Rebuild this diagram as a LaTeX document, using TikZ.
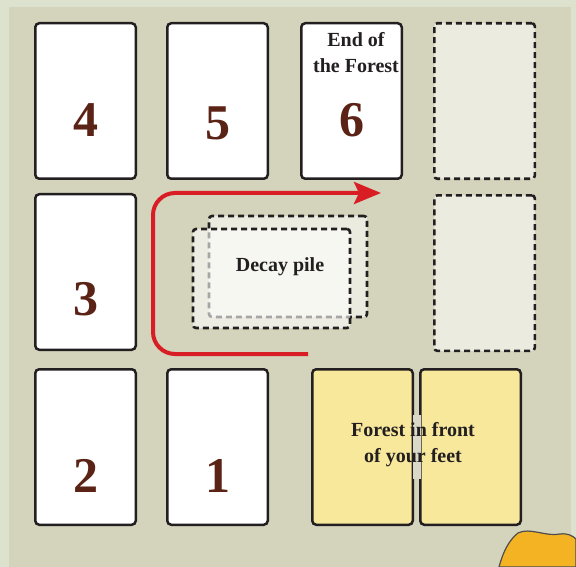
\documentclass[tikz,border=0pt]{standalone}
\usepackage{fontspec}
\setmainfont{Liberation Serif}
\usetikzlibrary{positioning, arrows.meta}

\definecolor{mapbg}{HTML}{D4D3BC}
\definecolor{mapedge}{HTML}{DDE2CE}
\definecolor{cardline}{HTML}{231F20}
\definecolor{numbrown}{HTML}{5B2316}
\definecolor{pathred}{HTML}{D81E24}
\definecolor{feetyellow}{HTML}{F7E89C}
\definecolor{seamgrey}{HTML}{DAD8C8}
\definecolor{blobfill}{HTML}{F4B323}

\begin{document}
\begin{tikzpicture}[
      x=1pt, y=-1pt,
      card/.style={rectangle, draw=cardline, fill=white, line width=2.5pt,
      rounded corners=4pt, minimum width=100.5pt, minimum height=155.5pt,
      inner sep=0pt},
      slot/.style={rectangle, draw=cardline, fill=white, fill opacity=0.55,
      draw opacity=1, line width=2.6pt, dash pattern=on 6pt off 4pt,
      rounded corners=3pt, inner sep=0pt},
      num/.style={text=numbrown, font=\fontsize{50}{50}\selectfont\bfseries,
      inner sep=0pt},
      title/.style={text=cardline, font=\fontsize{20}{26}\selectfont\bfseries,
      align=center, inner sep=0pt},
      line/.style={draw=pathred, line width=4pt, rounded corners=22pt,
      -{Stealth[length=27pt, width=22pt, inset=5pt]}}
    ]
    % Background
    \useasboundingbox (0,0) rectangle (576,567);
    \fill[mapbg] (0,0) rectangle (576,567);
    \fill[mapedge] (0,0) rectangle (576,7);
    \fill[mapedge] (0,0) rectangle (9,567);
    \fill[mapedge] (571,0) rectangle (576,567);

    % Nodes
    \node [card] (card4) at (85.5,101) {};
    \node [card, right=29pt of card4] (card5) {};
    \node [card, right=31pt of card5] (card6) {};
    \node [card, slot, right=30pt of card6] (slottop) {};
    \node [card, below=13pt of card4] (card3) {};
    \node [card, slot, below=14pt of slottop] (slotmid) {};
    \node [card, below=17pt of card3] (card2) {};
    \node [card, right=29pt of card2] (card1) {};
    \node [card, fill=feetyellow, right=42pt of card1] (feetleft) {};
    \node [card, fill=feetyellow, right=5pt of feetleft] (feetright) {};
    \path (feetleft.east) -- (feetright.west) node [midway, fill=seamgrey,
      minimum width=8pt, minimum height=64pt, inner sep=0pt] (seam) {};

    \node [num] at ([yshift=-19pt]card4.center) (num4) {4};
    \node [num] at ([yshift=-22pt]card5.center) (num5) {5};
    \node [num] at ([yshift=-19pt]card6.center) (num6) {6};
    \node [num] at ([yshift=-27pt]card3.center) (num3) {3};
    \node [num] at ([yshift=-29pt]card2.center) (num2) {2};
    \node [num] at ([yshift=-29pt]card1.center) (num1) {1};
    \node [title] at (356,53) (endforest) {End of\\the Forest};
    \node [title] at (413,445) (feettext) {Forest in front\\of your feet};

    % Decay pile
    \node [slot, minimum width=158pt, minimum height=101pt] at (288,266.5)
      (decayback) {};
    \node [slot, fill opacity=0.6, minimum width=157pt, minimum height=99pt]
      at (271.5,278.5) (decayfront) {};
    \node [title] at (280,267) (decaytext) {Decay pile};

    % Paths
    \coordinate (turnstart) at (308,354);
    \coordinate (turncorner) at (153,354);
    \coordinate (turnend) at (381,193);
    \path [line] (turnstart) -- (turncorner) |- (turnend);

    % Leaf in the corner
    \filldraw [fill=blobfill, draw=cardline!80, line width=1.2pt]
      (499,567) .. controls (503,552) and (509,540) .. (518,533)
      .. controls (530,527) and (546,537) .. (560,534)
      .. controls (568,533) and (573,536) .. (576,539)
      -- (576,567) -- cycle;
  \end{tikzpicture}
\end{document}
